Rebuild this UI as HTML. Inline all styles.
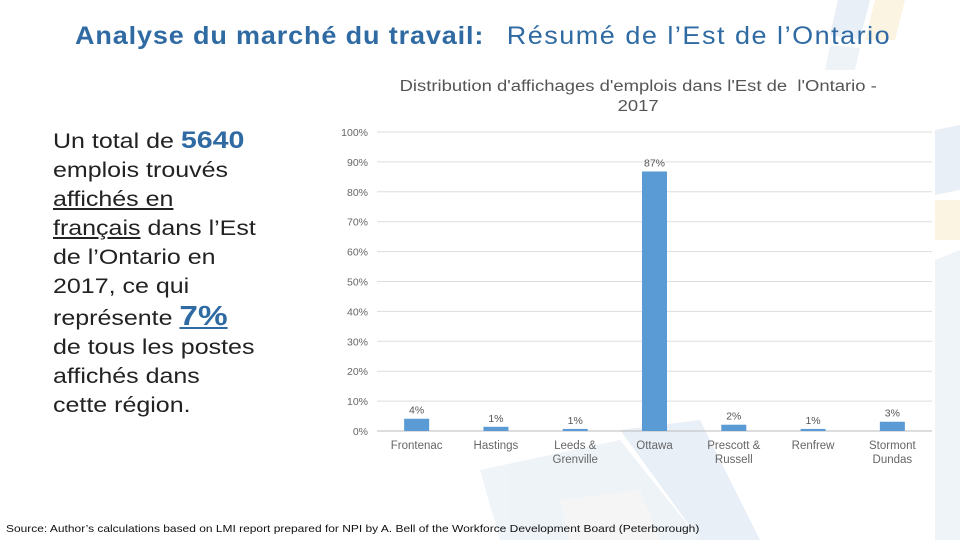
<!DOCTYPE html>
<html><head><meta charset="utf-8"><style>
body{margin:0;width:960px;height:540px;background:#fff;font-family:"Liberation Sans",sans-serif;position:relative;overflow:hidden}
.t{position:absolute;white-space:nowrap;transform-origin:0 0}
</style></head><body>
<svg width="960" height="540" style="position:absolute;left:0;top:0">
<g opacity="0.3">
<path d="M838 0 L870 0 L860 40 L830 35Z" fill="#b7cde6"/>
<path d="M875 0 L905 0 L895 40 L865 40Z" fill="#f6dca0"/>
<path d="M830 45 L860 48 L855 70 L825 70Z" fill="#c9d9ea"/>
<path d="M935 130 L960 125 L960 190 L935 195Z" fill="#b7cde6"/>
<path d="M935 200 L960 200 L960 240 L935 240Z" fill="#f6dca0"/>
<path d="M935 260 L960 250 L960 540 L935 540Z" fill="#c9d9ea"/>
<path d="M480 470 L620 440 L700 540 L500 540Z" fill="#c9d9ea"/>
<path d="M620 430 L700 420 L760 540 L700 540Z" fill="#b7cde6"/>
<path d="M560 500 L640 490 L660 540 L570 540Z" fill="#e0e0e0"/>
</g>
</svg>
<div class="t" style="left:75px;top:22px;font-size:25px;color:#2f6aa3;transform:scaleX(1.08)"><b style="letter-spacing:0.8px">Analyse du marché du travail:</b>&nbsp;&nbsp; <span style="letter-spacing:1.4px">Résumé de l’Est de l’Ontario</span></div>
<div style="position:absolute;left:53px;top:126px;width:220px;font-size:21px;line-height:29px;color:#222;transform:scaleX(1.19);transform-origin:0 0;white-space:nowrap">
Un total de <span style="color:#2f6aa3;font-weight:bold;font-size:24px">5640</span><br>emplois trouvés<br><u>affichés en</u><br><u>français</u> dans l’Est<br>de l’Ontario en<br>2017, ce qui<br>représente <span style="color:#2f6aa3;font-weight:bold;font-size:28px"><u>7%</u></span><br>de tous les postes<br>affichés dans<br>cette région.</div>
<div class="t" style="left:399px;top:77px;width:402px;text-align:center;font-size:15.5px;line-height:20px;color:#555;transform:scaleX(1.19)">Distribution d'affichages d'emplois dans l'Est de &nbsp;l'Ontario -<br>2017</div>
<svg id="c" width="960" height="540" style="position:absolute;left:0;top:0"></svg>
<div class="t" style="left:6px;top:523px;font-size:10.5px;color:#111;transform:scaleX(1.14)">Source: Author’s calculations based on LMI report prepared for NPI by A. Bell of the Workforce Development Board (Peterborough)</div>
<script>
const categories=["Frontenac","Hastings","Leeds &|Grenville","Ottawa","Prescott &|Russell","Renfrew","Stormont|Dundas"];
const values=[4.1,1.4,0.7,86.8,2.1,0.7,3.1];
const valueLabels=["4%","1%","1%","87%","2%","1%","3%"];
const ticks=[0,10,20,30,40,50,60,70,80,90,100];
const svg=document.getElementById('c');const NS="http://www.w3.org/2000/svg";
const L=377,R=932,T=132,B=431;
const y=v=>B-(v/100)*(B-T);
const step=(R-L)/categories.length;
const x=i=>L+step*(i+0.5);
function mk(t,a){const e=document.createElementNS(NS,t);for(const k in a)e.setAttribute(k,a[k]);svg.appendChild(e);return e;}
ticks.forEach(t=>{
 const l=mk('line',{x1:L,x2:R,y1:y(t),y2:y(t),stroke:t===0?'#bbb':'#ddd','stroke-width':1});
 
 
 const tx=mk('text',{x:368,y:y(t)+4,'text-anchor':'end','font-size':10.5,fill:'#666','font-family':'Liberation Sans, sans-serif'});
 tx.textContent=t+'%';
 
 
});
categories.forEach((c,i)=>{
 const bw=25;
 const r=mk('rect',{x:x(i)-bw/2,y:y(values[i]),width:bw,height:B-y(values[i]),fill:'#5b9bd5'});
 
 
 const vl=mk('text',{x:x(i),y:y(values[i])-5,'text-anchor':'middle','font-size':10.5,fill:'#555','font-family':'Liberation Sans, sans-serif'});
 vl.textContent=valueLabels[i];
 
 
 c.split('|').forEach((p,j)=>{
  const t=mk('text',{x:x(i),y:449+j*14,'text-anchor':'middle','font-size':11.5,fill:'#666','font-family':'Liberation Sans, sans-serif'});
  t.textContent=p;
  
  
 });
});
</script>
</body></html>
